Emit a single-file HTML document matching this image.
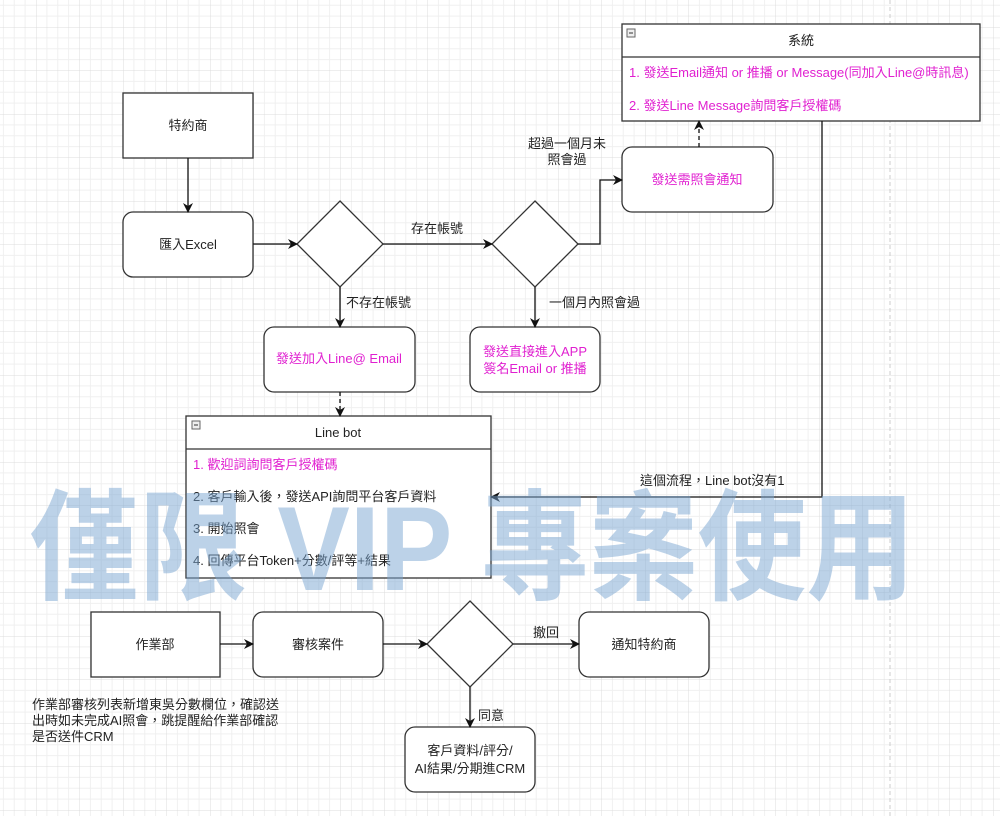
<!DOCTYPE html>
<html><head><meta charset="utf-8"><style>
html,body{margin:0;padding:0;background:#fff}
svg{display:block}
text{font-family:"Liberation Sans","Noto Sans CJK TC",sans-serif;font-size:13px;fill:#222}
.m{fill:#e020d0}
</style></head><body>
<svg width="1000" height="816" viewBox="0 0 1000 816" xmlns="http://www.w3.org/2000/svg">
<defs>
<pattern id="g" x="36" y="27" width="43.5" height="43.5" patternUnits="userSpaceOnUse">
<path d="M10.9 0V43.5M21.75 0V43.5M32.6 0V43.5M0 10.9H43.5M0 21.75H43.5M0 32.6H43.5" stroke="#f0f0f0" stroke-width="1"/>
<path d="M0 0V43.5M0 0H43.5" stroke="#dcdcdc" stroke-width="1"/>
</pattern>
<marker id="a" markerWidth="10" markerHeight="10" refX="9" refY="5" orient="auto" markerUnits="userSpaceOnUse"><path d="M0 0L10 5L0 10L3 5Z" fill="#111"/></marker>
</defs>
<rect width="1000" height="816" fill="url(#g)"/>
<line x1="890" y1="0" x2="890" y2="816" stroke="#ccc" stroke-dasharray="4 3"/>

<g stroke="#333" stroke-width="1.3" fill="#fff">
<rect x="123" y="93" width="130" height="65"/>
<rect x="123" y="212" width="130" height="65" rx="10"/>
<path d="M340 201L383 244L340 287L297 244Z"/>
<path d="M535 201L578 244L535 287L492 244Z"/>
<rect x="264" y="327" width="151" height="65" rx="10"/>
<rect x="470" y="327" width="130" height="65" rx="10"/>
<rect x="622" y="147" width="151" height="65" rx="10"/>
<rect x="622" y="24" width="358" height="97"/>
<line x1="622" y1="57" x2="980" y2="57"/>
<rect x="186" y="416" width="305" height="162"/>
<line x1="186" y1="449" x2="491" y2="449"/>
<rect x="91" y="612" width="129" height="65"/>
<rect x="253" y="612" width="130" height="65" rx="10"/>
<path d="M470 601L513 644L470 687L427 644Z"/>
<rect x="579" y="612" width="130" height="65" rx="10"/>
<rect x="405" y="727" width="130" height="65" rx="10"/>
</g>
<g fill="#eee" stroke="#666" stroke-width="1"><rect x="627" y="29" width="8" height="8"/><rect x="192" y="421" width="8" height="8"/></g>
<g stroke="#333" stroke-width="1"><line x1="629" y1="33" x2="633" y2="33"/><line x1="194" y1="425" x2="198" y2="425"/></g>

<g stroke="#111" stroke-width="1.3" fill="none" marker-end="url(#a)">
<line x1="188" y1="158" x2="188" y2="212"/>
<line x1="253" y1="244" x2="297" y2="244"/>
<line x1="383" y1="244" x2="492" y2="244"/>
<line x1="340" y1="287" x2="340" y2="327"/>
<line x1="535" y1="287" x2="535" y2="327"/>
<path d="M578 244H600V180H622"/>
<line x1="699" y1="147" x2="699" y2="121" stroke-dasharray="4 3"/>
<line x1="340" y1="392" x2="340" y2="416" stroke-dasharray="4 3"/>
<path d="M822 121V497H491"/>
<line x1="220" y1="644" x2="253" y2="644"/>
<line x1="383" y1="644" x2="427" y2="644"/>
<line x1="513" y1="644" x2="579" y2="644"/>
<line x1="470" y1="687" x2="470" y2="727"/>
</g>

<g text-anchor="middle">
<text x="188" y="130">特約商</text>
<text x="188" y="249">匯入Excel</text>
<text x="339" y="363" class="m">發送加入Line@ Email</text>
<text x="535" y="356" class="m">發送直接進入APP</text>
<text x="535" y="373" class="m">簽名Email or 推播</text>
<text x="697" y="184" class="m">發送需照會通知</text>
<text x="801" y="45">系統</text>
<text x="338" y="437">Line bot</text>
<text x="437" y="233">存在帳號</text>
<text x="567" y="148">超過一個月未</text>
<text x="567" y="164">照會過</text>
<text x="155" y="649">作業部</text>
<text x="318" y="649">審核案件</text>
<text x="644" y="649">通知特約商</text>
<text x="470" y="755">客戶資料/評分/</text>
<text x="470" y="773">AI結果/分期進CRM</text>
</g>
<text x="346" y="307">不存在帳號</text>
<text x="549" y="307">一個月內照會過</text>
<text x="640" y="485">這個流程，Line bot沒有1</text>
<text x="533" y="637">撤回</text>
<text x="478" y="720">同意</text>
<text x="629" y="77" class="m">1. 發送Email通知 or 推播 or Message(同加入Line@時訊息)</text>
<text x="629" y="110" class="m">2. 發送Line Message詢問客戶授權碼</text>
<text x="193" y="469" class="m">1. 歡迎詞詢問客戶授權碼</text>
<text x="193" y="501">2. 客戶輸入後，發送API詢問平台客戶資料</text>
<text x="193" y="533">3. 開始照會</text>
<text x="193" y="565">4. 回傳平台Token+分數/評等+結果</text>
<text x="32" y="709">作業部審核列表新增東吳分數欄位，確認送</text>
<text x="32" y="725">出時如未完成AI照會，跳提醒給作業部確認</text>
<text x="32" y="741">是否送件CRM</text>

<text x="30" y="590" textLength="885" lengthAdjust="spacingAndGlyphs" style="font-size:120px;font-weight:bold;fill:#7aa6d2;fill-opacity:0.5">僅限 VIP 專案使用</text>
</svg>
</body></html>
